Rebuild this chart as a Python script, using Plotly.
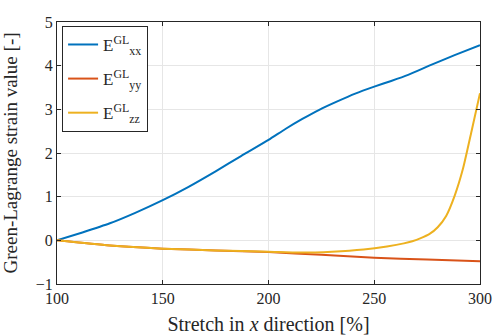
import plotly.graph_objects as go

# Data
x_xx = [100, 112, 125, 137, 150, 162, 175, 187, 200, 208, 216, 224, 232, 241, 250, 258, 266, 276, 288, 300]
e_xx = [0, 0.18, 0.39, 0.63, 0.92, 1.22, 1.58, 1.93, 2.30, 2.55, 2.78, 2.99, 3.17, 3.36, 3.52, 3.65, 3.79, 4.00, 4.24, 4.47]

x_yy = [100, 125, 150, 175, 200, 225, 250, 275, 300]
e_yy = [0, -0.12, -0.19, -0.23, -0.27, -0.33, -0.40, -0.44, -0.48]

x_zz = [100, 125, 150, 175, 200, 215, 230, 245, 256, 264, 268, 272, 276, 280, 284, 288, 292, 296, 300]
e_zz = [0, -0.12, -0.19, -0.23, -0.26, -0.28, -0.26, -0.21, -0.14, -0.07, -0.02, 0.05, 0.14, 0.30, 0.56, 1.02, 1.65, 2.50, 3.37]

x_ticks = [100, 150, 200, 250, 300]
y_ticks = [-1, 0, 1, 2, 3, 4, 5]

font = "Liberation Serif, Times New Roman, serif"

fig = go.Figure()
fig.add_trace(go.Scatter(x=x_xx, y=e_xx, mode="lines", legendgroup="a",
                         line=dict(color="#0072BD", width=2, shape="spline", smoothing=0.6),
                         name="E<sup>GL</sup><sub>xx</sub>"))
fig.add_trace(go.Scatter(x=x_yy, y=e_yy, mode="lines", legendgroup="b",
                         line=dict(color="#D95319", width=2, shape="spline", smoothing=0.6),
                         name="E<sup>GL</sup><sub>yy</sub>"))
fig.add_trace(go.Scatter(x=x_zz, y=e_zz, mode="lines", legendgroup="c",
                         line=dict(color="#EDB120", width=2, shape="spline", smoothing=0.6),
                         name="E<sup>GL</sup><sub>zz</sub>"))

axis_common = dict(showline=True, linecolor="#262626", linewidth=1, mirror="ticks",
                   ticks="inside", ticklen=4, tickcolor="#262626", automargin=False,
                   showgrid=True, gridcolor="#e6e6e6", gridwidth=1, zeroline=False,
                   tickfont=dict(family=font, size=16, color="#262626"))

fig.update_layout(
    width=497, height=335,
    margin=dict(l=57, r=17, t=22, b=51),
    paper_bgcolor="white", plot_bgcolor="white",
    font=dict(family=font, color="#262626"),
    xaxis=dict(range=[100, 300], tickvals=x_ticks,
               title=dict(text="Stretch in <i>x</i> direction [%]", font=dict(family=font, size=20)),
               **axis_common),
    yaxis=dict(range=[-1, 5], tickvals=y_ticks,
               title=dict(text="Green-Lagrange strain value [-]", font=dict(family=font, size=19)),
               **axis_common),
    legend=dict(x=0.012, y=0.985, xanchor="left", yanchor="top",
                bgcolor="white", bordercolor="#262626", borderwidth=1,
                font=dict(family=font, size=17, color="#262626"),
                itemwidth=30, tracegroupgap=9),
    showlegend=True,
)

fig.write_html("out.html")
